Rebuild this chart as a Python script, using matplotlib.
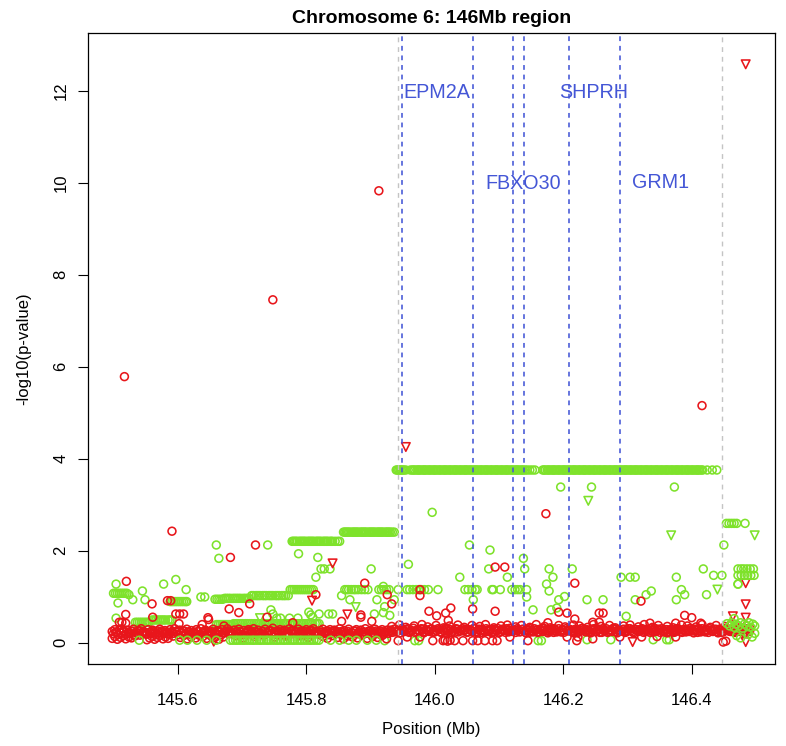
import matplotlib
matplotlib.use("Agg")
import matplotlib.pyplot as plt

plt.rcParams['font.family'] = ['Liberation Sans', 'DejaVu Sans']

# ---------------- data (positions in Mb, values in -log10 p) ----------------
x_ticks = [145.6, 145.8, 146.0, 146.2, 146.4]
y_ticks = [0, 2, 4, 6, 8, 10, 12]

gene_names = ["EPM2A", "FBXO30", "SHPRH", "GRM1"]
gene_label_x = [146.0035, 146.138, 146.248, 146.3515]
gene_label_y = [11.96, 9.98, 11.96, 9.99]
gene_bounds = [145.9486, 146.0591, 146.1213, 146.1389, 146.2085, 146.2883]
grey_bounds = [145.9433, 146.4466]

# dense red band (right part)
red_band_x = [
    145.931, 145.934, 145.939, 145.942, 145.946, 145.951, 145.953, 145.958, 145.962, 145.964,
    145.969, 145.973, 145.976, 145.981, 145.983, 145.988, 145.992, 145.995, 146.000, 146.003,
    146.007, 146.010, 146.015, 146.018, 146.021, 146.026, 146.029, 146.033, 146.037, 146.040,
    146.045, 146.048, 146.051, 146.056, 146.059, 146.063, 146.066, 146.071, 146.074, 146.078,
    146.082, 146.085, 146.089, 146.093, 146.096, 146.101, 146.104, 146.107, 146.112, 146.115,
    146.119, 146.123, 146.126, 146.130, 146.134, 146.137, 146.142, 146.145, 146.148, 146.153,
    146.157, 146.160, 146.164, 146.168, 146.171, 146.176, 146.179, 146.183, 146.186, 146.190,
    146.195, 146.198, 146.201, 146.206, 146.209, 146.213, 146.216, 146.221, 146.224, 146.228,
    146.232, 146.235, 146.239, 146.243, 146.246, 146.250, 146.254, 146.257, 146.262, 146.265,
    146.269, 146.273, 146.276, 146.280, 146.284, 146.287, 146.292, 146.295, 146.299, 146.302,
    146.306, 146.310, 146.314, 146.317, 146.321, 146.325, 146.328, 146.333, 146.336, 146.340,
    146.343, 146.348, 146.351, 146.355, 146.359, 146.362, 146.366, 146.370, 146.374, 146.377,
    146.381, 146.385, 146.389, 146.392, 146.396, 146.400, 146.403, 146.407, 146.411, 146.414,
    146.419, 146.422, 146.426, 146.430, 146.433, 146.437, 146.441, 146.444, 146.449, 146.452,
    146.456, 146.460, 146.463, 146.468, 146.471, 146.475, 146.479, 146.482, 146.486, 146.490]
red_band_y = [
    0.27, 0.22, 0.29, 0.25, 0.21, 0.28, 0.24, 0.30, 0.23, 0.26,
    0.22, 0.28, 0.25, 0.29, 0.21, 0.27, 0.24, 0.30, 0.23, 0.26,
    0.28, 0.22, 0.25, 0.29, 0.24, 0.21, 0.27, 0.30, 0.23, 0.26,
    0.25, 0.29, 0.22, 0.27, 0.24, 0.30, 0.21, 0.26, 0.28, 0.23,
    0.27, 0.24, 0.21, 0.29, 0.25, 0.22, 0.28, 0.26, 0.30, 0.23,
    0.25, 0.28, 0.22, 0.27, 0.24, 0.29, 0.21, 0.26, 0.30, 0.23,
    0.26, 0.22, 0.29, 0.24, 0.27, 0.21, 0.28, 0.25, 0.30, 0.23,
    0.24, 0.28, 0.22, 0.26, 0.29, 0.25, 0.21, 0.27, 0.23, 0.30,
    0.28, 0.23, 0.26, 0.21, 0.29, 0.24, 0.27, 0.22, 0.30, 0.25,
    0.22, 0.27, 0.24, 0.29, 0.21, 0.26, 0.28, 0.23, 0.25, 0.30,
    0.26, 0.21, 0.28, 0.24, 0.29, 0.22, 0.27, 0.25, 0.30, 0.23,
    0.24, 0.29, 0.22, 0.26, 0.28, 0.21, 0.27, 0.25, 0.23, 0.30,
    0.27, 0.22, 0.25, 0.29, 0.24, 0.28, 0.21, 0.26, 0.30, 0.23,
    0.25, 0.28, 0.22, 0.27, 0.24, 0.29, 0.21, 0.26, 0.23, 0.30,
    0.28, 0.24, 0.26, 0.22, 0.29, 0.25, 0.27, 0.21, 0.30, 0.24]

# more SNPs inside the red band (right part)
red_band3_x = [
    145.933, 145.937, 145.940, 145.944, 145.948, 145.952, 145.956, 145.960, 145.963, 145.967,
    145.971, 145.975, 145.979, 145.982, 145.986, 145.990, 145.994, 145.997, 146.002, 146.005,
    146.009, 146.013, 146.017, 146.020, 146.024, 146.028, 146.031, 146.035, 146.039, 146.043,
    146.047, 146.050, 146.054, 146.058, 146.061, 146.065, 146.069, 146.073, 146.076, 146.080,
    146.084, 146.087, 146.091, 146.095, 146.099, 146.103, 146.106, 146.110, 146.114, 146.117,
    146.121, 146.125, 146.128, 146.132, 146.136, 146.140, 146.144, 146.147, 146.151, 146.155,
    146.159, 146.162, 146.166, 146.170, 146.174, 146.178, 146.181, 146.185, 146.188, 146.193,
    146.197, 146.200, 146.204, 146.208, 146.211, 146.215, 146.219, 146.223, 146.226, 146.230,
    146.234, 146.237, 146.241, 146.245, 146.248, 146.252, 146.256, 146.260, 146.263, 146.267,
    146.271, 146.275, 146.278, 146.282, 146.286, 146.290, 146.294, 146.297, 146.301, 146.304,
    146.308, 146.312, 146.316, 146.319, 146.323, 146.327, 146.331, 146.335, 146.338, 146.342,
    146.345, 146.350, 146.353, 146.357, 146.361, 146.364, 146.368, 146.372, 146.376, 146.379,
    146.383, 146.387, 146.391, 146.394, 146.398, 146.402, 146.405, 146.409, 146.413, 146.416,
    146.421, 146.424, 146.428, 146.432, 146.435, 146.439, 146.443, 146.446, 146.451, 146.454,
    146.458, 146.462, 146.465, 146.470, 146.473, 146.477, 146.481, 146.484, 146.488, 146.491]
red_band3_y = [
    0.25, 0.29, 0.23, 0.27, 0.30, 0.24, 0.28, 0.22, 0.26, 0.31,
    0.24, 0.27, 0.30, 0.23, 0.28, 0.25, 0.29, 0.22, 0.26, 0.30,
    0.23, 0.27, 0.31, 0.25, 0.28, 0.24, 0.22, 0.29, 0.26, 0.30,
    0.27, 0.23, 0.28, 0.25, 0.31, 0.24, 0.29, 0.22, 0.26, 0.30,
    0.25, 0.28, 0.23, 0.27, 0.30, 0.24, 0.29, 0.22, 0.26, 0.31,
    0.24, 0.27, 0.30, 0.23, 0.28, 0.25, 0.29, 0.22, 0.26, 0.30,
    0.28, 0.23, 0.27, 0.31, 0.25, 0.24, 0.29, 0.22, 0.26, 0.30,
    0.23, 0.27, 0.30, 0.25, 0.28, 0.24, 0.29, 0.22, 0.26, 0.31,
    0.25, 0.28, 0.23, 0.27, 0.30, 0.24, 0.29, 0.22, 0.26, 0.30,
    0.24, 0.27, 0.31, 0.23, 0.28, 0.25, 0.29, 0.22, 0.26, 0.30,
    0.23, 0.28, 0.25, 0.27, 0.30, 0.24, 0.29, 0.22, 0.26, 0.31,
    0.25, 0.27, 0.30, 0.23, 0.28, 0.24, 0.29, 0.22, 0.26, 0.30,
    0.24, 0.28, 0.23, 0.27, 0.31, 0.25, 0.29, 0.22, 0.26, 0.30,
    0.23, 0.27, 0.30, 0.25, 0.28, 0.24, 0.29, 0.22, 0.26, 0.31,
    0.25, 0.28, 0.23, 0.27, 0.30, 0.24, 0.29, 0.22, 0.26, 0.30]

# upper edge of the red band (right part)
red_band2_x = [
    145.933, 145.945, 145.955, 145.968, 145.980, 145.989, 146.002, 146.014, 146.023, 146.036,
    146.046, 146.058, 146.070, 146.079, 146.092, 146.103, 146.113, 146.126, 146.135, 146.148,
    146.158, 146.171, 146.180, 146.193, 146.203, 146.216, 146.225, 146.238, 146.247, 146.259,
    146.272, 146.281, 146.294, 146.304, 146.317, 146.326, 146.339, 146.348, 146.362, 146.371,
    146.384, 146.393, 146.407, 146.416, 146.429, 146.438, 146.452, 146.461, 146.474, 146.485]
red_band2_y = [
    0.35, 0.38, 0.33, 0.36, 0.39, 0.34, 0.37, 0.32, 0.36, 0.38,
    0.33, 0.37, 0.35, 0.39, 0.32, 0.36, 0.38, 0.34, 0.37, 0.33,
    0.39, 0.35, 0.32, 0.37, 0.34, 0.38, 0.36, 0.33, 0.39, 0.35,
    0.37, 0.32, 0.36, 0.38, 0.34, 0.39, 0.33, 0.37, 0.35, 0.32,
    0.38, 0.36, 0.34, 0.39, 0.33, 0.37, 0.35, 0.38, 0.32, 0.36]

# dense red band (left part, upper row)
red_left_x = [
    145.498, 145.502, 145.505, 145.509, 145.513, 145.516, 145.521, 145.524, 145.528, 145.531,
    145.535, 145.539, 145.543, 145.546, 145.550, 145.554, 145.558, 145.561, 145.565, 145.569,
    145.572, 145.577, 145.580, 145.584, 145.588, 145.591, 145.595, 145.599, 145.603, 145.606,
    145.610, 145.614, 145.617, 145.621, 145.625, 145.629, 145.632, 145.636, 145.640, 145.643,
    145.647, 145.651, 145.655, 145.658, 145.662, 145.666, 145.669, 145.673, 145.677, 145.681,
    145.684, 145.688, 145.692, 145.695, 145.699, 145.703, 145.707, 145.710, 145.714, 145.718,
    145.722, 145.725, 145.729, 145.733, 145.736, 145.740, 145.744, 145.748, 145.751, 145.755,
    145.759, 145.762, 145.766, 145.770, 145.774, 145.777, 145.781, 145.785, 145.788, 145.792,
    145.796, 145.800, 145.803, 145.807, 145.811, 145.814, 145.818, 145.822, 145.826, 145.829,
    145.833, 145.837, 145.840, 145.844, 145.848, 145.852, 145.855, 145.859, 145.863, 145.866,
    145.870, 145.874, 145.878, 145.881, 145.885, 145.889, 145.892, 145.896, 145.900, 145.904,
    145.907, 145.911, 145.915, 145.918, 145.922, 145.926]
red_left_y = [
    0.24, 0.28, 0.21, 0.26, 0.30, 0.23, 0.27, 0.20, 0.25, 0.29,
    0.22, 0.26, 0.30, 0.24, 0.19, 0.28, 0.23, 0.27, 0.21, 0.25,
    0.29, 0.22, 0.26, 0.20, 0.28, 0.24, 0.30, 0.23, 0.27, 0.21,
    0.25, 0.29, 0.22, 0.26, 0.20, 0.28, 0.24, 0.30, 0.23, 0.27,
    0.21, 0.25, 0.29, 0.19, 0.26, 0.23, 0.28, 0.22, 0.30, 0.25,
    0.20, 0.27, 0.24, 0.29, 0.22, 0.26, 0.21, 0.28, 0.25, 0.30,
    0.23, 0.27, 0.20, 0.24, 0.29, 0.22, 0.26, 0.31, 0.21, 0.25,
    0.28, 0.23, 0.27, 0.20, 0.30, 0.24, 0.26, 0.22, 0.29, 0.25,
    0.21, 0.28, 0.23, 0.27, 0.30, 0.24, 0.20, 0.26, 0.29, 0.22,
    0.25, 0.28, 0.21, 0.27, 0.23, 0.30, 0.24, 0.26, 0.20, 0.29,
    0.22, 0.25, 0.28, 0.21, 0.27, 0.23, 0.30, 0.24, 0.26, 0.20,
    0.29, 0.22, 0.25, 0.28, 0.23, 0.27]

# more SNPs inside the red band (left part)
red_left2_x = [
    145.500, 145.504, 145.507, 145.511, 145.515, 145.519, 145.523, 145.526, 145.530, 145.533,
    145.537, 145.541, 145.545, 145.548, 145.552, 145.556, 145.560, 145.563, 145.567, 145.571,
    145.575, 145.579, 145.582, 145.586, 145.590, 145.593, 145.597, 145.601, 145.605, 145.608,
    145.612, 145.616, 145.619, 145.623, 145.627, 145.631, 145.634, 145.638, 145.642, 145.645,
    145.649, 145.653, 145.657, 145.660, 145.664, 145.668, 145.671, 145.675, 145.679, 145.683,
    145.686, 145.690, 145.694, 145.697, 145.701, 145.705, 145.709, 145.712, 145.716, 145.720,
    145.724, 145.727, 145.731, 145.735, 145.738, 145.742, 145.746, 145.750, 145.753, 145.757,
    145.761, 145.764, 145.768, 145.772, 145.776, 145.779, 145.783, 145.787, 145.790, 145.794,
    145.798, 145.802, 145.805, 145.809, 145.813, 145.816, 145.820, 145.824, 145.828, 145.831,
    145.835, 145.839, 145.842, 145.846, 145.850, 145.854, 145.857, 145.861, 145.865, 145.868,
    145.872, 145.876, 145.880, 145.883, 145.887, 145.891, 145.894, 145.898, 145.902, 145.906,
    145.909, 145.913, 145.917, 145.920, 145.924, 145.928]
red_left2_y = [
    0.19, 0.23, 0.17, 0.21, 0.25, 0.18, 0.22, 0.20, 0.24, 0.17,
    0.21, 0.25, 0.19, 0.23, 0.18, 0.22, 0.20, 0.24, 0.17, 0.21,
    0.25, 0.19, 0.23, 0.18, 0.22, 0.20, 0.24, 0.17, 0.21, 0.25,
    0.19, 0.23, 0.18, 0.22, 0.20, 0.24, 0.17, 0.21, 0.25, 0.19,
    0.23, 0.18, 0.22, 0.20, 0.24, 0.17, 0.21, 0.25, 0.19, 0.23,
    0.18, 0.22, 0.20, 0.24, 0.17, 0.21, 0.25, 0.19, 0.23, 0.18,
    0.22, 0.20, 0.24, 0.17, 0.21, 0.25, 0.19, 0.23, 0.18, 0.22,
    0.20, 0.24, 0.17, 0.21, 0.25, 0.19, 0.23, 0.18, 0.22, 0.20,
    0.24, 0.17, 0.21, 0.25, 0.19, 0.23, 0.18, 0.22, 0.20, 0.24,
    0.17, 0.21, 0.25, 0.19, 0.23, 0.18, 0.22, 0.20, 0.24, 0.17,
    0.21, 0.25, 0.19, 0.23, 0.18, 0.22, 0.20, 0.24, 0.17, 0.21,
    0.25, 0.19, 0.23, 0.18, 0.22, 0.20]

# red points in the lower part of the band
red_low_x = [
    145.498, 145.502, 145.506, 145.511, 145.515, 145.519, 145.524, 145.528, 145.533, 145.541,
    145.552, 145.556, 145.560, 145.564, 145.568, 145.572, 145.577, 145.581, 145.585, 145.593,
    145.604, 145.609, 145.615, 145.621, 145.628, 145.633, 145.639, 145.645, 145.652, 145.658,
    145.664, 145.671, 145.690, 145.702, 145.719, 145.733, 145.751, 145.768, 145.790, 145.803,
    145.826, 145.833, 145.841, 145.849, 145.858, 145.864, 145.872, 145.880, 145.887, 145.895,
    145.903, 145.911, 145.918, 145.925,
    145.943, 145.957, 145.977, 145.997, 146.013, 146.016, 146.020, 146.024, 146.031, 146.044,
    146.059, 146.067, 146.078, 146.090, 146.097, 146.117, 146.145, 146.206, 146.221, 146.223,
    146.246, 146.288, 146.322, 146.346, 146.375, 146.449, 146.453]
red_low_y = [
    0.09, 0.13, 0.07, 0.11, 0.15, 0.08, 0.12, 0.10, 0.14, 0.16,
    0.06, 0.10, 0.13, 0.07, 0.11, 0.15, 0.08, 0.12, 0.09, 0.14,
    0.11, 0.15, 0.08, 0.12, 0.10, 0.16, 0.13, 0.09, 0.14, 0.11,
    0.07, 0.12, 0.15, 0.10, 0.13, 0.16, 0.12, 0.14, 0.15, 0.11,
    0.13, 0.09, 0.15, 0.11, 0.08, 0.14, 0.12, 0.10, 0.16, 0.09,
    0.13, 0.11, 0.15, 0.08,
    0.04, 0.12, 0.12, 0.04, 0.04, 0.05, 0.03, 0.05, 0.04, 0.04,
    0.04, 0.04, 0.04, 0.04, 0.04, 0.12, 0.04, 0.12, 0.04, 0.12,
    0.08, 0.12, 0.12, 0.13, 0.12, 0.01, 0.03]

# scattered red circles
red_pts_x = [
    145.517, 145.748, 145.913, 146.416, 145.591, 145.721, 145.682, 146.173, 146.094, 146.109,
    145.891, 145.926, 145.933, 145.977, 145.977, 145.991, 146.003, 146.017, 146.025, 146.021,
    146.059, 146.094, 145.885, 145.885, 145.902, 145.855, 146.193, 146.206, 146.218, 146.218,
    146.176, 146.321, 146.335, 146.256, 146.262, 146.246, 146.256, 146.389, 146.400, 146.375,
    146.414, 145.520, 145.560, 145.584, 145.589, 145.680, 145.695, 145.712, 145.739, 145.779,
    145.561, 145.647, 145.648, 145.597, 145.603, 145.609, 145.509, 145.513, 145.519, 145.519,
    145.815, 145.638, 145.672, 145.602]
red_pts_y = [
    5.78, 7.45, 9.82, 5.15, 2.42, 2.12, 1.85, 2.80, 1.64, 1.64,
    1.29, 1.04, 0.84, 1.15, 1.02, 0.68, 0.58, 0.64, 0.75, 0.48,
    0.73, 0.68, 0.55, 0.60, 0.46, 0.46, 0.66, 0.64, 1.29, 0.51,
    0.43, 0.90, 0.42, 0.64, 0.64, 0.44, 0.44, 0.59, 0.54, 0.42,
    0.42, 1.33, 0.84, 0.91, 0.91, 0.73, 0.65, 0.84, 0.55, 0.43,
    0.55, 0.54, 0.50, 0.62, 0.62, 0.62, 0.44, 0.44, 0.42, 0.61,
    1.04, 0.39, 0.36, 0.41]

# red triangles
red_tri_x = [146.484, 145.955, 145.841, 145.809, 145.864, 146.484, 146.484, 146.464,
             146.484, 146.484, 146.308, 145.656]
red_tri_y = [12.57, 4.25, 1.72, 0.91, 0.61, 1.29, 0.83, 0.57, 0.54, 0.01, 0.01, 0.02]

# scattered green circles
green_pts_x = [
    145.660, 145.664, 145.740, 145.788, 145.818, 145.996, 146.054, 146.086, 146.138, 146.196,
    146.244, 146.373, 146.483, 146.450, 146.140, 146.084, 145.959, 145.901, 145.837, 146.039,
    146.113, 146.178, 146.184, 146.214, 145.828, 145.823, 145.815, 146.418, 146.434, 146.447,
    146.376, 146.304, 146.312, 146.290, 146.472, 146.384, 146.389, 146.376, 146.423, 146.337,
    146.329, 146.312, 146.298, 146.237, 146.262, 146.237, 146.274, 146.361, 146.365, 146.340,
    145.504, 145.578, 145.597, 145.545, 145.613, 145.636, 145.642, 145.855, 145.868, 145.910,
    145.920, 145.922, 145.920, 145.906, 145.930, 145.937, 146.060, 146.143, 146.153, 146.174,
    146.178, 146.193, 146.202, 146.181, 146.190, 145.841, 145.530, 145.507, 145.549, 145.524,
    145.745, 145.748, 145.804, 145.807, 145.810, 145.820, 145.835, 145.754, 145.760, 145.774,
    145.787, 145.780, 145.504, 145.922, 145.969, 145.975, 146.161, 146.166]
green_pts_y = [
    2.12, 1.83, 2.12, 1.93, 1.85, 2.83, 2.12, 2.01, 1.83, 3.38,
    3.38, 3.38, 2.59, 2.12, 1.60, 1.60, 1.70, 1.60, 1.60, 1.42,
    1.42, 1.60, 1.42, 1.60, 1.60, 1.60, 1.42, 1.60, 1.46, 1.46,
    1.42, 1.42, 1.42, 1.42, 1.27, 1.15, 1.04, 0.93, 1.04, 1.12,
    1.04, 0.93, 0.57, 0.93, 0.93, 0.06, 0.06, 0.06, 0.06, 0.06,
    1.27, 1.27, 1.37, 1.12, 1.15, 0.99, 0.99, 1.02, 0.93, 0.93,
    1.22, 0.78, 0.65, 0.62, 0.59, 0.93, 0.93, 0.99, 0.71, 1.27,
    1.12, 0.93, 1.00, 0.71, 0.75, 0.62, 0.93, 0.86, 0.93, 1.04,
    0.71, 0.62, 0.66, 0.60, 0.55, 0.62, 0.62, 0.53, 0.53, 0.53,
    0.53, 0.37, 0.53, 0.04, 0.04, 0.04, 0.04, 0.04]

# green triangles
green_tri_x = [146.239, 146.368, 146.498, 146.440, 145.877, 145.728]
green_tri_y = [3.08, 2.33, 2.33, 1.15, 0.77, 0.53]

# green plateau at 3.75 (SNPs in one LD block)
plateau_375_y = 3.75
plateau_375_x = [
    145.940, 145.942, 145.944, 145.946, 145.948, 145.950, 145.952, 145.955, 145.962, 145.965,
    145.967, 145.969, 145.972, 145.974, 145.976, 145.978, 145.981, 145.983, 145.985, 145.987,
    145.990, 145.992, 145.994, 145.997, 145.999, 146.001, 146.003, 146.006, 146.008, 146.010,
    146.013, 146.015, 146.017, 146.019, 146.022, 146.024, 146.026, 146.029, 146.031, 146.033,
    146.035, 146.038, 146.040, 146.042, 146.045, 146.047, 146.049, 146.051, 146.054, 146.056,
    146.058, 146.061, 146.063, 146.065, 146.067, 146.070, 146.072, 146.074, 146.077, 146.079,
    146.081, 146.083, 146.086, 146.088, 146.090, 146.093, 146.095, 146.097, 146.099, 146.102,
    146.104, 146.106, 146.109, 146.111, 146.113, 146.115, 146.118, 146.120, 146.122, 146.125,
    146.127, 146.129, 146.131, 146.134, 146.136, 146.138, 146.141, 146.144, 146.148, 146.152,
    146.156,
    146.168, 146.170, 146.172, 146.175, 146.177, 146.179, 146.182, 146.184, 146.186, 146.188,
    146.191, 146.193, 146.195, 146.198, 146.200, 146.202, 146.204, 146.207, 146.209, 146.211,
    146.214, 146.216, 146.218, 146.220, 146.223, 146.225, 146.227, 146.230, 146.232, 146.234,
    146.236, 146.239, 146.241, 146.243, 146.246, 146.248, 146.250, 146.252, 146.255, 146.257,
    146.259, 146.262, 146.264, 146.266, 146.268, 146.271, 146.273, 146.275, 146.278, 146.280,
    146.282, 146.284, 146.287, 146.289, 146.291, 146.294, 146.296, 146.298, 146.300, 146.303,
    146.305, 146.307, 146.310, 146.312, 146.314, 146.316, 146.319, 146.321, 146.323, 146.326,
    146.328, 146.330, 146.332, 146.335, 146.337, 146.339, 146.342, 146.344, 146.346, 146.348,
    146.351, 146.353, 146.355, 146.358, 146.360, 146.362, 146.364, 146.367, 146.369, 146.371,
    146.374, 146.376, 146.378, 146.380, 146.383, 146.385, 146.387, 146.390, 146.392, 146.394,
    146.396, 146.399, 146.401, 146.403, 146.406, 146.408, 146.410, 146.412, 146.415, 146.417,
    146.424, 146.432, 146.439]

plateau_240_y = 2.40
plateau_240_x = [
    145.858, 145.860, 145.862, 145.864, 145.866, 145.868, 145.871, 145.873, 145.875, 145.877,
    145.879, 145.881, 145.884, 145.886, 145.888, 145.890, 145.892, 145.894, 145.897, 145.899,
    145.901, 145.903, 145.905, 145.907, 145.910, 145.912, 145.914, 145.916, 145.918, 145.920,
    145.923, 145.925, 145.927, 145.929, 145.931, 145.934, 145.937]

plateau_220_y = 2.20
plateau_220_x = [
    145.778, 145.780, 145.782, 145.784, 145.786, 145.789, 145.791, 145.793, 145.795, 145.797,
    145.799, 145.802, 145.804, 145.806, 145.808, 145.810, 145.812, 145.815, 145.817, 145.819,
    145.821, 145.823, 145.826, 145.828, 145.830, 145.832, 145.834, 145.837, 145.839, 145.841,
    145.845, 145.849, 145.852]

row_115_y = 1.15
row_115_x = [
    145.775, 145.778, 145.781, 145.784, 145.787, 145.790, 145.793, 145.796, 145.799, 145.802,
    145.805, 145.808, 145.811, 145.860, 145.863, 145.866, 145.870, 145.874, 145.877, 145.881,
    145.886, 145.891, 145.896, 145.913, 145.917, 145.921, 145.925, 145.929, 145.943, 145.957,
    145.961, 145.966, 145.971, 145.975, 145.979, 145.984, 145.990, 146.005, 146.047, 146.052,
    146.058, 146.063, 146.066, 146.089, 146.091, 146.102, 146.120, 146.125, 146.129, 146.133,
    146.143]

row_100_x = [
    145.658, 145.661, 145.664, 145.667, 145.670, 145.673, 145.676, 145.679, 145.682, 145.686,
    145.689, 145.692, 145.695, 145.698, 145.702, 145.705, 145.708, 145.711, 145.715, 145.718,
    145.722, 145.725, 145.728, 145.732, 145.735, 145.738, 145.742, 145.745, 145.748, 145.752,
    145.755, 145.758, 145.762, 145.765, 145.768, 145.772]
row_100_y = [
    0.94, 0.94, 0.94, 0.94, 0.94, 0.96, 0.96, 0.96, 0.96, 0.96,
    0.96, 0.96, 0.96, 0.96, 0.96, 0.96, 0.96, 0.96, 1.02, 1.02,
    1.02, 1.02, 1.02, 1.02, 1.02, 1.02, 1.02, 1.02, 1.02, 1.02,
    1.02, 1.02, 1.02, 1.02, 1.02, 1.02]

row_107_y = 1.07
row_107_x = [145.500, 145.503, 145.506, 145.509, 145.512, 145.515, 145.518, 145.521]

row_089_y = 0.89
row_089_x = [145.588, 145.591, 145.594, 145.597, 145.600, 145.603, 145.606, 145.609,
             145.612, 145.614]

# green SNPs just above the red band on the left
green_mid_x = [
    145.560, 145.563, 145.566, 145.569, 145.572, 145.575, 145.578, 145.581, 145.585, 145.588,
    145.591, 145.534, 145.537, 145.540, 145.543, 145.546, 145.549, 145.552, 145.555,
    145.660, 145.663, 145.666, 145.669, 145.672, 145.675, 145.678, 145.681, 145.684,
    145.687, 145.691, 145.694, 145.698, 145.701, 145.705, 145.708, 145.712, 145.715, 145.719,
    145.722, 145.726, 145.729, 145.733, 145.736, 145.740, 145.743, 145.747, 145.750, 145.754,
    145.757, 145.761, 145.764, 145.768, 145.771, 145.775, 145.779, 145.782, 145.786, 145.789,
    145.793, 145.796, 145.800, 145.803, 145.807, 145.810, 145.814, 145.817, 145.820]
green_mid_y = [
    0.49, 0.49, 0.49, 0.49, 0.49, 0.49, 0.49, 0.49, 0.49, 0.49,
    0.49, 0.44, 0.44, 0.44, 0.44, 0.44, 0.44, 0.44, 0.44,
    0.39, 0.39, 0.39, 0.39, 0.39, 0.39, 0.39, 0.39, 0.39,
    0.41, 0.41, 0.41, 0.41, 0.41, 0.41, 0.41, 0.41, 0.41, 0.41,
    0.41, 0.41, 0.41, 0.41, 0.41, 0.41, 0.41, 0.41, 0.41, 0.41,
    0.41, 0.41, 0.41, 0.41, 0.41, 0.41, 0.41, 0.41, 0.41, 0.41,
    0.41, 0.41, 0.41, 0.41, 0.41, 0.41, 0.41, 0.41, 0.41]

# green SNPs at the bottom of the band
green_bottom_y = 0.05
green_bottom_x = [
    145.682, 145.686, 145.690, 145.693, 145.697, 145.701, 145.704, 145.708, 145.712, 145.716,
    145.719, 145.723, 145.727, 145.730, 145.734, 145.738, 145.741, 145.745, 145.749, 145.753,
    145.756, 145.760, 145.764, 145.767, 145.771, 145.775, 145.779, 145.782, 145.786, 145.790,
    145.793, 145.797, 145.801, 145.805, 145.808, 145.812, 145.816, 145.820,
    145.540, 145.603, 145.615, 145.630, 145.645, 145.660, 145.838, 145.852, 145.866, 145.878,
    145.895, 145.909]

# green cluster at the right end
green_end_x = [146.455, 146.459, 146.462, 146.466, 146.469, 146.473, 146.476, 146.479, 146.482,
               146.486, 146.489, 146.492, 146.495, 146.498, 146.470, 146.476, 146.488, 146.494,
               146.498, 146.466,
               146.454, 146.458, 146.462, 146.466, 146.470,
               146.472, 146.477, 146.481, 146.486, 146.491, 146.496,
               146.472, 146.477, 146.482, 146.487, 146.492, 146.497, 146.472]
green_end_y = [0.41, 0.36, 0.43, 0.33, 0.40, 0.36, 0.43, 0.31, 0.40,
               0.36, 0.43, 0.33, 0.40, 0.36, 0.15, 0.10, 0.18, 0.12,
               0.20, 0.52,
               2.59, 2.59, 2.59, 2.59, 2.59,
               1.60, 1.60, 1.60, 1.60, 1.60, 1.60,
               1.46, 1.46, 1.46, 1.46, 1.46, 1.46, 1.27]

# ---------------- drawing ----------------
RED = '#E8161B'
GREEN = '#7EE22B'
BLUE = '#4456D6'
GREY = '#C4C4C4'

fig = plt.figure(figsize=(7.86, 7.46), dpi=100)
ax = fig.add_axes([88 / 786, 1 - 664 / 746, (775 - 88) / 786, (664 - 33) / 746])

S_C = 32
S_T = 38
LW = 1.15


def circles(x, y, color, z):
    ax.scatter(x, y, s=S_C, facecolors='none', edgecolors=color, linewidths=LW, zorder=z)


def tris(x, y, color, z):
    ax.scatter(x, y, s=S_T, marker='v', facecolors='none', edgecolors=color,
               linewidths=LW, zorder=z)


# green first
circles(plateau_375_x, [plateau_375_y] * len(plateau_375_x), GREEN, 2)
circles(plateau_240_x, [plateau_240_y] * len(plateau_240_x), GREEN, 2)
circles(plateau_220_x, [plateau_220_y] * len(plateau_220_x), GREEN, 2)
circles(row_115_x, [row_115_y] * len(row_115_x), GREEN, 2)
circles(row_100_x, row_100_y, GREEN, 2)
circles(row_107_x, [row_107_y] * len(row_107_x), GREEN, 2)
circles(row_089_x, [row_089_y] * len(row_089_x), GREEN, 2)
circles(green_mid_x, green_mid_y, GREEN, 2)
circles(green_pts_x, green_pts_y, GREEN, 2)
tris(green_tri_x, green_tri_y, GREEN, 2)

# red
circles(red_low_x, red_low_y, RED, 3)
circles(red_left_x, red_left_y, RED, 3)
circles(red_left2_x, red_left2_y, RED, 3)
circles(red_band_x, red_band_y, RED, 3)
circles(red_band3_x, red_band3_y, RED, 3)
circles(red_band2_x, red_band2_y, RED, 3)
circles(red_pts_x, red_pts_y, RED, 3)
tris(red_tri_x, red_tri_y, RED, 3)

# green on top
circles(green_bottom_x, [green_bottom_y] * len(green_bottom_x), GREEN, 4)
circles(green_end_x, green_end_y, GREEN, 4)

# gene boundaries
for xv in grey_bounds:
    ax.axvline(xv, color=GREY, lw=1.0, linestyle=(0, (3.5, 3.5)), zorder=5)
for xv in gene_bounds:
    ax.axvline(xv, color=BLUE, lw=1.15, linestyle=(0, (3.0, 3.0)), zorder=5)
for name, gx, gy in zip(gene_names, gene_label_x, gene_label_y):
    ax.text(gx, gy, name, color=BLUE, fontsize=14.2, ha='center', va='center', zorder=6)

ax.set_xlim(145.4603, 146.5296)
ax.set_ylim(-0.467, 13.25)
ax.set_xticks(x_ticks)
ax.set_xticklabels([f"{v:.1f}" for v in x_ticks])
ax.set_yticks(y_ticks)
ax.set_yticklabels([str(v) for v in y_ticks])
ax.tick_params(direction='out', length=7.2, width=0.8, labelsize=12)
ax.tick_params(axis='x', pad=14)
ax.tick_params(axis='y', pad=7, labelrotation=90)
for lab in ax.get_yticklabels():
    lab.set_va('center')
for sp in ax.spines.values():
    sp.set_linewidth(0.9)

ax.set_xlabel("Position (Mb)", fontsize=12, labelpad=10)
ax.set_ylabel("-log10(p-value)", fontsize=12, labelpad=16)
ax.set_title("Chromosome 6: 146Mb region", fontsize=14, fontweight='bold', pad=7.5)

fig.savefig("out.png", dpi=100)
